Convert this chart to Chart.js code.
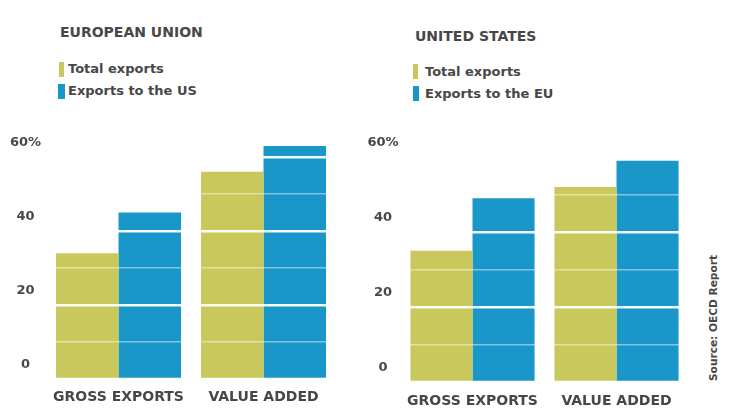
<!DOCTYPE html>
<html>
<head>
<meta charset="utf-8">
<title>EU and US exports</title>
<script src="https://cdn.jsdelivr.net/npm/chart.js"></script>
<style>
  body { margin: 0; background: #fff; width: 746px; height: 416px; overflow: hidden; position: relative;
         font-family: "DejaVu Sans", sans-serif; color: #474747; }
  .title { position: absolute; font-weight: bold; font-size: 14px; white-space: nowrap; }
  .leg { position: absolute; font-weight: bold; font-size: 13px; line-height: 16px; white-space: nowrap; }
  .sw { position: absolute; width: 5px; height: 15px; }
  canvas { position: absolute; }
  .source { position: absolute; font-weight: bold; font-size: 10.6px; transform: rotate(-90deg); transform-origin: center; white-space: nowrap; }
</style>
</head>
<body>

<div class="title" style="left:60px; top:24px;">EUROPEAN UNION</div>
<div class="sw" style="left:59px; top:62px; background:#c9c85c;"></div>
<div class="leg" style="left:68px; top:61px;">Total exports</div>
<div class="sw" style="left:58px; top:84px; width:7px; background:#1a97c9;"></div>
<div class="leg" style="left:68px; top:83px;">Exports to the US</div>

<div class="title" style="left:415px; top:28px;">UNITED STATES</div>
<div class="sw" style="left:413px; top:64px; background:#c9c85c;"></div>
<div class="leg" style="left:425px; top:64px;">Total exports</div>
<div class="sw" style="left:413px; top:86px; width:6px; background:#1a97c9;"></div>
<div class="leg" style="left:425px; top:86px;">Exports to the EU</div>

<div class="source" style="left:643px; top:312px; width:140px; text-align:center;">Source: OECD Report</div>

<canvas id="euChart" width="345" height="306" style="left:0px; top:110px;"></canvas>
<canvas id="usChart" width="345" height="306" style="left:355px; top:110px;"></canvas>

<script>
    var categories = ['GROSS EXPORTS', 'VALUE ADDED'];
    var euTotal = [34, 56];
    var euToUS = [45, 63];
    var usTotal = [35, 52];
    var usToEU = [49, 59];
    var yTicks = [0, 10, 20, 30, 40, 50, 60];

    var yellow = '#c9c85c';
    var blue = '#1a97c9';
    var textColor = '#474747';

    function makeChart(id, totals, partner, opts) {
        var ctx = document.getElementById(id).getContext('2d');
        return new Chart(ctx, {
            type: 'bar',
            data: {
                labels: categories,
                datasets: [{
                    label: 'Total exports',
                    data: totals,
                    backgroundColor: yellow,
                    barPercentage: 1,
                    categoryPercentage: 0.862
                }, {
                    label: 'Partner exports',
                    data: partner,
                    backgroundColor: blue,
                    barPercentage: 1,
                    categoryPercentage: 0.862
                }]
            },
            options: {
                responsive: false,
                animation: false,
                layout: { padding: { top: opts.top, right: opts.right, left: 0, bottom: 0 } },
                plugins: { legend: { display: false }, tooltip: { enabled: false } },
                scales: {
                    x: {
                        grid: { display: false },
                        border: { display: false },
                        ticks: {
                            color: textColor,
                            padding: opts.xpad,
                            font: { family: 'DejaVu Sans', size: 14, weight: 'bold' }
                        },
                        afterFit: function (scale) { scale.height = opts.xh; }
                    },
                    y: {
                        min: 0,
                        max: 65,
                        afterBuildTicks: function (scale) {
                            scale.ticks = yTicks.map(function (v) { return { value: v }; });
                        },
                        afterFit: function (scale) { scale.width = opts.yw; },
                        border: { display: false },
                        grid: {
                            z: 1,
                            drawTicks: false,
                            color: function (c) {
                                return c.tick && c.tick.value % 20 === 0 ? 'rgba(255,255,255,0.95)' : 'rgba(255,255,255,0.45)';
                            },
                            lineWidth: function (c) {
                                return c.tick && c.tick.value % 20 === 0 ? 2.5 : 1.5;
                            }
                        },
                        ticks: {
                            color: textColor,
                            crossAlign: 'center',
                            padding: opts.pad,
                            labelOffset: -14,
                            font: { family: 'DejaVu Sans', size: 13, weight: 'bold' },
                            callback: function (v) {
                                if (v % 20 !== 0) return '';
                                return v === 60 ? '60%' : String(v);
                            }
                        }
                    }
                }
            }
        });
    }

    makeChart('euChart', euTotal, euToUS, { top: 28.5, right: 9, xh: 37, yw: 46, pad: 5, xpad: 2 });
    makeChart('usChart', usTotal, usToEU, { top: 28.25, right: 11.5, xh: 34, yw: 45.5, pad: 2, xpad: 3 });
</script>

</body>
</html>
